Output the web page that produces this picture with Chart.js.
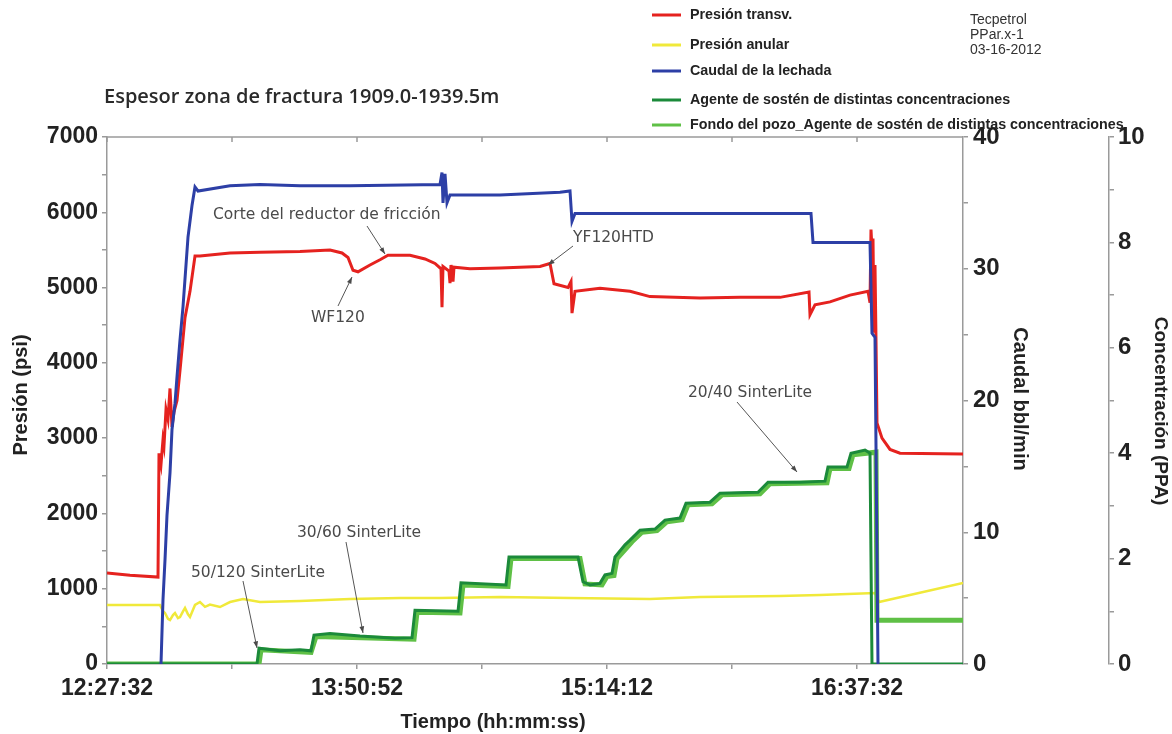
<!DOCTYPE html>
<html>
<head>
<meta charset="utf-8">
<script src="https://cdn.jsdelivr.net/npm/chart.js@4.4.0/dist/chart.umd.min.js"></script>
<style>
  html, body { margin: 0; padding: 0; background: #fff; }
</style>
</head>
<body>
<canvas id="chart" width="1172" height="734"></canvas>
<script>
// time window of the record
const startTime = '12:27:32';
const endTime = '17:12:52';

// Presión transv. (psi)
const redTimes = ['12:27:32','12:35:12','12:44:32','12:44:52','12:45:32','12:46:12','12:46:32','12:47:12','12:47:52','12:48:32',
  '12:49:12','12:49:52','12:50:52','12:51:52','12:53:32','12:55:12','12:56:52','12:58:32','13:08:32','13:18:32',
  '13:31:52','13:41:52','13:45:52','13:47:52','13:49:32','13:51:12','13:55:12','13:58:32','14:01:12','14:08:32',
  '14:13:32','14:16:52','14:18:52','14:19:12','14:19:32','14:21:32','14:21:52','14:22:12','14:22:52','14:23:12',
  '14:28:32','14:38:32','14:51:52','14:55:12','14:56:32','15:01:12','15:02:12','15:02:32','15:03:32','15:11:52',
  '15:21:52','15:28:32','15:45:12','15:58:32','16:11:52','16:21:32','16:21:52','16:23:32','16:28:32','16:35:12',
  '16:41:12','16:41:52','16:42:12','16:42:32','16:42:52','16:43:12','16:43:32','16:43:52','16:44:12','16:45:52',
  '16:48:32','16:51:52','17:12:52'];
const redValues = [1210, 1180, 1155, 2800, 2650, 2980, 2900, 3380, 3250, 3660,
  3150, 3350, 3500, 3900, 4600, 4950, 5420, 5420, 5460, 5470,
  5480, 5500, 5460, 5400, 5230, 5210, 5300, 5370, 5430, 5430,
  5380, 5320, 5250, 4740, 5280, 5220, 5060, 5300, 5080, 5270,
  5250, 5260, 5280, 5320, 5050, 5000, 5080, 4660, 4950, 4990,
  4950, 4880, 4860, 4870, 4870, 4940, 4640, 4770, 4810, 4900,
  4950, 4800, 5770, 5500, 5650, 4400, 5300, 4300, 3200, 3000,
  2850, 2800, 2790];

// Presión anular (psi)
const yellowTimes = ['12:27:32','12:45:12','12:46:12','12:46:52','12:47:52','12:48:32','12:49:32','12:50:12','12:51:12','12:51:52',
  '12:52:52','12:53:32','12:54:32','12:55:12','12:56:12','12:56:52','12:58:32','13:00:12','13:01:52','13:05:12',
  '13:08:32','13:12:52','13:18:32','13:31:52','13:48:32','14:05:12','14:18:32','14:38:32','15:01:52','15:28:32',
  '15:45:12','16:11:52','16:25:12','16:43:32','16:44:52','17:12:52'];
const yellowValues = [784, 784, 700, 677, 600, 584, 650, 677, 610, 624,
  700, 744, 660, 624, 720, 784, 823, 760, 790, 757,
  823, 863, 823, 837, 863, 876, 876, 890, 876, 863,
  890, 903, 916, 943, 823, 1076];

// Caudal de la lechada (bbl/min)
const blueTimes = ['12:45:32','12:46:12','12:46:52','12:47:32','12:48:32','12:49:12','12:50:12','12:50:52','12:51:52',
  '12:52:52','12:54:32','12:55:52','12:56:52','12:57:52','13:08:32','13:18:32','13:31:52','13:48:32','14:18:32',
  '14:19:12','14:19:32','14:20:12','14:20:52','14:21:52','14:38:32','14:58:32','15:01:52','15:02:32','15:03:32',
  '15:28:32','15:51:52','16:22:12','16:22:52','16:41:52','16:42:32','16:43:32','16:44:32'];
const blueValues = [0, 4.9, 7.9, 11.3, 14.5, 17.8, 19.8, 21.8, 24.6,
  27.1, 32.4, 34.8, 36.2, 35.9, 36.3, 36.4, 36.3, 36.3, 36.4,
  37.3, 35.0, 37.2, 35.0, 35.6, 35.6, 35.8, 35.9, 33.6, 34.2,
  34.2, 34.2, 34.2, 32.0, 32.0, 25.1, 24.8, 0];

// Agente de sostén (PPA)
const agentTimes = ['12:27:32','13:17:32','13:18:12','13:25:12','13:31:52','13:35:32','13:36:32','13:41:52','13:51:52','14:03:32',
  '14:09:12','14:10:12','14:24:32','14:25:32','14:40:32','14:41:32','15:04:32','15:06:12','15:08:32','15:11:52',
  '15:13:32','15:15:52','15:16:52','15:20:12','15:21:52','15:25:12','15:30:12','15:33:32','15:38:32','15:40:32',
  '15:48:32','15:51:52','16:04:32','16:07:52','16:18:32','16:26:52','16:27:52','16:34:12','16:35:32','16:40:12',
  '16:41:52','16:42:32','17:12:52'];
const agentValues = [0, 0, 0.30, 0.25, 0.27, 0.25, 0.55, 0.58, 0.53, 0.49,
  0.50, 1.02, 1.00, 1.54, 1.50, 2.03, 2.03, 1.56, 1.50, 1.53,
  1.69, 1.72, 2.03, 2.26, 2.35, 2.54, 2.56, 2.73, 2.77, 3.05,
  3.07, 3.24, 3.26, 3.45, 3.45, 3.47, 3.74, 3.74, 4.00, 4.06,
  4.00, 0, 0];

// Fondo del pozo_Agente de sostén (PPA)
const bottomTimes = ['12:27:32','13:18:12','13:18:52','13:35:32','13:37:12','14:09:52','14:10:52','14:25:12','14:26:12','14:41:12',
  '14:42:12','15:05:12','15:06:52','15:12:32','15:14:12','15:16:32','15:17:32','15:22:32','15:25:52','15:30:52',
  '15:34:12','15:39:12','15:41:12','15:49:12','15:52:32','16:05:12','16:08:32','16:27:32','16:28:32','16:34:52',
  '16:36:12','16:43:52','16:44:12','17:12:52'];
const bottomValues = [0, 0, 0.27, 0.22, 0.52, 0.47, 0.98, 0.97, 1.50, 1.47,
  2.00, 2.00, 1.52, 1.50, 1.66, 1.68, 2.00, 2.32, 2.50, 2.53,
  2.70, 2.74, 3.02, 3.04, 3.21, 3.23, 3.42, 3.44, 3.71, 3.71,
  3.97, 4.02, 0.83, 0.83];

// axis ticks (labelled ones; the unlabelled ticks sit halfway between)
const timeTicks = ['12:27:32', '13:50:52', '15:14:12', '16:37:32'];
const pressureTicks = [0, 1000, 2000, 3000, 4000, 5000, 6000, 7000];
const rateTicks = [0, 10, 20, 30, 40];
const concTicks = [0, 2, 4, 6, 8, 10];

const seriesLabels = ['Presión transv.', 'Presión anular', 'Caudal de la lechada',
  'Agente de sostén de distintas concentraciones',
  'Fondo del pozo_Agente de sostén de distintas concentraciones'];
const seriesColors = ['#e5221f', '#f0e93a', '#2d3fa6', '#1b8a3a', '#5fc046'];

const notes = ['Corte del reductor de fricción', 'WF120', 'YF120HTD',
  '50/120 SinterLite', '30/60 SinterLite', '20/40 SinterLite'];

function secs(s) {
  const p = s.split(':').map(Number);
  return p[0] * 3600 + p[1] * 60 + (p[2] || 0);
}
const t0 = secs(startTime);
const pts = (times, vals) => times.map((t, i) => ({ x: secs(t) - t0, y: vals[i] }));
const pad = n => String(n).padStart(2, '0');
function clock(v) {
  const s = Math.round(t0 + v);
  return pad(Math.floor(s / 3600)) + ':' + pad(Math.floor(s / 60) % 60) + ':' + pad(s % 60);
}

// labelled ticks plus an unlabelled one halfway to the next
function withMinor(major, max) {
  const out = [];
  major.forEach((v, i) => {
    out.push({ value: v, major: true });
    const step = i + 1 < major.length ? major[i + 1] - v : major[1] - major[0];
    if (v + step / 2 <= max) out.push({ value: v + step / 2 });
  });
  return out;
}
const labelIfMajor = fmt => (v, i, ticks) => (ticks[i].major ? fmt(v) : '');

const axisGray = '#9a9a9a';
const tickFont = { family: 'Liberation Sans, Arial, sans-serif', size: 23, weight: 'bold' };

function line(ctx, x1, y1, x2, y2) {
  ctx.beginPath(); ctx.moveTo(x1, y1); ctx.lineTo(x2, y2); ctx.stroke();
}
function arrow(ctx, x1, y1, x2, y2) {
  line(ctx, x1, y1, x2, y2);
  const a = Math.atan2(y2 - y1, x2 - x1);
  ctx.beginPath();
  ctx.moveTo(x2, y2);
  ctx.lineTo(x2 - 7 * Math.cos(a - 0.35), y2 - 7 * Math.sin(a - 0.35));
  ctx.lineTo(x2 - 7 * Math.cos(a + 0.35), y2 - 7 * Math.sin(a + 0.35));
  ctx.closePath(); ctx.fill();
}
function vtext(ctx, text, x, y, angle) {
  ctx.save(); ctx.translate(x, y); ctx.rotate(angle);
  ctx.fillText(text, 0, 0); ctx.restore();
}

const decor = {
  id: 'decor',
  afterDraw(chart) {
    const ctx = chart.ctx;
    const area = chart.chartArea;
    const xs = chart.scales.x;
    ctx.save();

    // top frame and inward ticks
    ctx.strokeStyle = axisGray; ctx.lineWidth = 1.5;
    line(ctx, area.left, area.top, area.right, area.top);
    xs.ticks.forEach(t => {
      const px = xs.getPixelForValue(t.value);
      line(ctx, px, area.top, px, area.top + 5);
    });

    // axis titles
    ctx.fillStyle = '#222'; ctx.textAlign = 'center'; ctx.textBaseline = 'middle';
    ctx.font = 'bold 20px "Liberation Sans", Arial, sans-serif';
    vtext(ctx, 'Presión (psi)', 21, 395, -Math.PI / 2);
    ctx.fillText('Tiempo (hh:mm:ss)', 493, 722);
    vtext(ctx, 'Caudal bbl/min', 1020, 399, Math.PI / 2);
    ctx.font = 'bold 19px "Liberation Sans", Arial, sans-serif';
    vtext(ctx, 'Concentración (PPA)', 1160, 411, Math.PI / 2);

    // heading and job info
    ctx.textAlign = 'left';
    ctx.font = '600 20px "Open Sans", sans-serif';
    ctx.fillStyle = '#2a2a2a';
    ctx.fillText('Espesor zona de fractura 1909.0-1939.5m', 104, 97);
    ctx.font = '14px "Liberation Sans", Arial, sans-serif';
    ctx.fillStyle = '#333';
    ['Tecpetrol', 'PPar.x-1', '03-16-2012'].forEach((s, i) => ctx.fillText(s, 970, 20 + i * 15));

    // legend
    const ly = [15, 45, 71, 100, 125];
    ctx.font = 'bold 14.3px "Liberation Sans", Arial, sans-serif';
    ctx.fillStyle = '#222';
    seriesLabels.forEach((s, i) => {
      ctx.strokeStyle = seriesColors[i]; ctx.lineWidth = 3;
      line(ctx, 652, ly[i], 681, ly[i]);
      ctx.fillText(s, 690, ly[i]);
    });

    // annotations
    const spots = [[213, 215, 367, 226, 385, 254], [311, 318, 338, 306, 352, 277], [573, 238, 573, 246, 548, 265],
      [191, 573, 243, 581, 257, 648], [297, 533, 346, 542, 363, 633], [688, 393, 737, 402, 797, 472]];
    ctx.font = '15.5px "DejaVu Sans", sans-serif';
    ctx.fillStyle = '#4a4a4a'; ctx.strokeStyle = '#555'; ctx.lineWidth = 1;
    notes.forEach((s, i) => {
      const p = spots[i];
      ctx.fillText(s, p[0], p[1]);
      arrow(ctx, p[2], p[3], p[4], p[5]);
    });
    ctx.restore();
  }
};

function axisGrid() {
  return { drawOnChartArea: false, drawTicks: true, tickLength: 5, color: axisGray, lineWidth: 1.5 };
}
const timeMax = secs(endTime) - t0;
const timeTickValues = timeTicks.map(t => secs(t) - t0);

new Chart(document.getElementById('chart'), {
  type: 'line',
  data: {
    datasets: [
      { label: seriesLabels[0], data: pts(redTimes, redValues), borderColor: seriesColors[0], borderWidth: 3, yAxisID: 'y', order: 2 },
      { label: seriesLabels[1], data: pts(yellowTimes, yellowValues), borderColor: seriesColors[1], borderWidth: 2.5, yAxisID: 'y', order: 5 },
      { label: seriesLabels[2], data: pts(blueTimes, blueValues), borderColor: seriesColors[2], borderWidth: 3, yAxisID: 'y1', order: 1 },
      { label: seriesLabels[3], data: pts(agentTimes, agentValues), borderColor: seriesColors[3], borderWidth: 3, yAxisID: 'y2', order: 3 },
      { label: seriesLabels[4], data: pts(bottomTimes, bottomValues), borderColor: seriesColors[4], borderWidth: 5, yAxisID: 'y2', order: 4 }
    ]
  },
  options: {
    responsive: false,
    animation: false,
    layout: { padding: { top: 137, left: 0, right: 0, bottom: 0 } },
    elements: { point: { radius: 0 }, line: { tension: 0, borderJoinStyle: 'miter' } },
    plugins: { legend: { display: false }, tooltip: { enabled: false } },
    scales: {
      x: {
        type: 'linear', min: 0, max: timeMax,
        grid: axisGrid(), border: { color: axisGray, width: 1.5 },
        afterBuildTicks: s => { s.ticks = withMinor(timeTickValues, timeMax); },
        ticks: { autoSkip: false, maxRotation: 0, padding: 6, color: '#222', font: tickFont,
          callback: labelIfMajor(clock) },
        afterFit: s => { s.height = 70; }
      },
      y: {
        position: 'left', min: 0, max: 7000,
        grid: axisGrid(), border: { color: axisGray, width: 1.5 },
        afterBuildTicks: s => { s.ticks = withMinor(pressureTicks, 7000); },
        ticks: { autoSkip: false, padding: 4, color: '#222', font: tickFont, callback: labelIfMajor(String) },
        afterFit: s => { s.width = 107; }
      },
      y1: {
        position: 'right', weight: 0, min: 0, max: 40,
        grid: axisGrid(), border: { color: axisGray, width: 1.5 },
        afterBuildTicks: s => { s.ticks = withMinor(rateTicks, 40); },
        ticks: { autoSkip: false, padding: 5, color: '#222', font: { ...tickFont, size: 24 }, callback: labelIfMajor(String) },
        afterFit: s => { s.width = 146; }
      },
      y2: {
        position: 'right', weight: 1, min: 0, max: 10,
        grid: axisGrid(), border: { color: axisGray, width: 1.5 },
        afterBuildTicks: s => { s.ticks = withMinor(concTicks, 10); },
        ticks: { autoSkip: false, padding: 4, color: '#222', font: { ...tickFont, size: 24 }, callback: labelIfMajor(String) },
        afterFit: s => { s.width = 63; }
      }
    }
  },
  plugins: [decor]
});
</script>
</body>
</html>
